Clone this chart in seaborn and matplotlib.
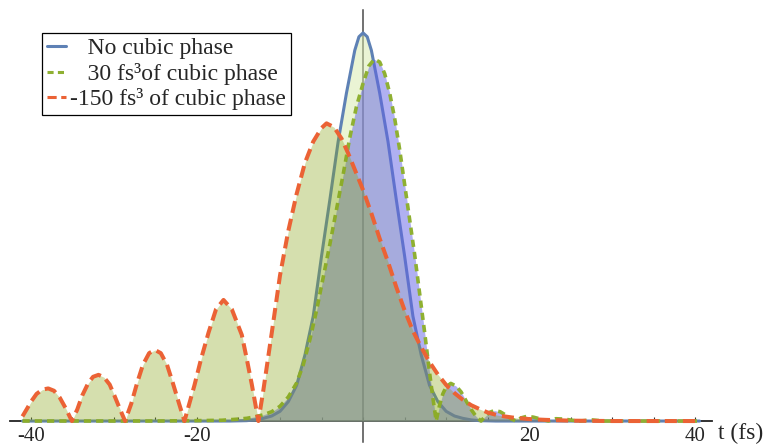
import seaborn as sns
import matplotlib.pyplot as plt
from matplotlib.lines import Line2D

# values (t in fs, normalised intensity)
blue_t = [-41, -16, -14, -13, -12, -11, -10, -9, -8, -7, -6, -5, -4, -3, -2, -1, -0.5, 0,
          0.5, 1, 2, 3, 4, 5, 6, 7, 8, 9, 10, 11, 12, 13, 14, 16, 40.5]
blue_v = [0, 0, 0.001, 0.003, 0.007, 0.013, 0.025, 0.05, 0.092, 0.17, 0.27, 0.425, 0.57, 0.72, 0.845, 0.955, 0.99, 1.0,
          0.99, 0.955, 0.845, 0.72, 0.57, 0.425, 0.27, 0.17, 0.092, 0.05, 0.025, 0.013, 0.007, 0.003, 0.001, 0, 0]

green_t = [-41, -25, -20, -17, -15, -14, -13, -12, -11, -10, -9, -8, -7.2, -6.4, -5.6, -4.8, -4.0, -3.2,
           -2.4, -1.6, -0.8, 0, 0.7, 1.36, 2.0, 2.6, 3.2, 3.8, 4.4, 5.0, 5.6, 6.2, 6.8, 7.4, 8.0, 8.4, 8.8,
           9.2, 9.6, 10.0, 10.56, 11.2, 11.8, 12.4, 13.0, 13.6, 14.2, 14.7, 15.2, 15.8, 16.5, 17.2, 17.8,
           18.4, 19.0, 19.7, 20.5, 21.4, 22.3, 23.2, 24.2, 25.2, 26.1, 27.5, 29, 40.5]
green_v = [0, 0, 0.001, 0.002, 0.005, 0.007, 0.011, 0.016, 0.024, 0.038, 0.062, 0.098, 0.145, 0.21, 0.285, 0.37, 0.455, 0.545,
           0.635, 0.73, 0.81, 0.87, 0.915, 0.932, 0.925, 0.895, 0.845, 0.78, 0.70, 0.61, 0.52, 0.43, 0.33, 0.23, 0.125, 0.06, 0,
           0.04, 0.07, 0.088, 0.097, 0.09, 0.075, 0.052, 0.03, 0.012, 0, 0.012, 0.022, 0.027, 0.024, 0.015, 0.006,
           0, 0.008, 0.012, 0.01, 0.005, 0, 0.006, 0.005, 0.002, 0, 0.003, 0, 0]

orange_t = [-41.0, -40.5, -39.9, -39.3, -38.6, -37.9, -37.2, -36.5, -35.8, -35.05,
            -34.4, -33.8, -33.1, -32.5, -31.85, -31.2, -30.5, -29.9, -29.25, -28.65,
            -27.9, -27.2, -26.5, -25.75, -25.05, -24.35, -23.6, -22.9, -22.15, -21.5,
            -20.3, -19.5, -18.6, -17.7, -16.8, -15.8, -14.6, -14.0, -13.4, -12.6,
            -12.0, -11.0, -10.0, -9.0, -8.0, -7.0, -6.0, -5.0, -4.4, -3.5, -2.6, -1.8, -1.0,
            0, 1, 2, 3, 4, 5, 6, 7, 8, 9, 10, 11, 12, 13, 14, 15, 16, 17, 18, 20, 22, 25, 30, 40.5]
orange_v = [0.012, 0.03, 0.052, 0.07, 0.081, 0.084, 0.078, 0.06, 0.033, 0,
            0.03, 0.066, 0.097, 0.114, 0.119, 0.113, 0.094, 0.064, 0.03, 0,
            0.045, 0.098, 0.145, 0.175, 0.183, 0.175, 0.145, 0.098, 0.045, 0,
            0.092, 0.16, 0.228, 0.288, 0.312, 0.288, 0.222, 0.16, 0.095, 0,
            0.08, 0.226, 0.375, 0.49, 0.585, 0.665, 0.72, 0.755, 0.767, 0.757, 0.728, 0.69, 0.648,
            0.595, 0.535, 0.47, 0.41, 0.345, 0.285, 0.232, 0.19, 0.152, 0.12, 0.093, 0.072, 0.055, 0.041,
            0.031, 0.022, 0.016, 0.012, 0.009, 0.005, 0.003, 0.001, 0, 0]

labels = ["   No cubic phase", "   30 fs\u00b3of cubic phase", "-150 fs\u00b3 of cubic phase"]
tick_vals = list(range(-40, 41, 5))
tick_text = {-40: "-40", -20: "-20", 20: "20", 40: "40"}

sns.set_style("white")
plt.rcParams['font.family'] = ['Liberation Serif', 'DejaVu Serif']
plt.rcParams['axes.unicode_minus'] = False

fig = plt.figure(figsize=(7.68, 4.45), dpi=100)
ax = fig.add_axes([10 / 768, 3 / 445, 702 / 768, 432 / 445])

styles = [
    dict(line='#5e81b5', ls='-', lw=2.2, fill=(0.84, 0.92, 0.67), alpha=0.5),
    dict(line='#8fb032', ls=(0, (2.0, 1.4)), lw=2.6, fill=(0.39, 0.39, 0.90), alpha=0.5),
    dict(line='#eb6235', ls=(0, (3.0, 1.5)), lw=2.9, fill=(0.53, 0.65, 0.09), alpha=0.35),
]
series = [(blue_t, blue_v), (green_t, green_v), (orange_t, orange_v)]

handles = []
z = 1
for (t, v), st, lab in zip(series, styles, labels):
    ax.fill_between(t, v, 0, color=st['fill'], alpha=st['alpha'], lw=0, zorder=z)
    sns.lineplot(x=t, y=v, ax=ax, color=st['line'], linestyle=st['ls'], linewidth=st['lw'],
                 estimator=None, sort=False, zorder=z + 1)
    handles.append(Line2D([], [], color=st['line'], linestyle=st['ls'], lw=2.2))
    z += 2

ax.set_xlim(-42.5, 42.0)
ax.set_ylim(-0.054, 1.059)

# Mathematica-like axes crossing at the origin
for side in ['top', 'right']:
    ax.spines[side].set_visible(False)
ax.spines['bottom'].set_position(('data', 0))
ax.spines['left'].set_position(('data', 0))
ax.spines['bottom'].set_color('#222222')
ax.spines['left'].set_color('#4a4a4a')
ax.spines['bottom'].set_linewidth(1.3)
ax.spines['left'].set_linewidth(1.1)
ax.spines['bottom'].set_zorder(0.5)
ax.spines['left'].set_zorder(0.5)

ax.set_yticks([])
ax.set_xticks(tick_vals)
ax.set_xticklabels([tick_text.get(v, "") for v in tick_vals])
ax.tick_params(axis='x', direction='in', length=3, width=0.8, color='#333333',
               labelsize=15, pad=4, bottom=True)
ax.set_xlabel('')
ax.set_ylabel('')

fig.text(718 / 768, 1 - 433 / 445, 't (fs)', fontsize=17, ha='left', va='center')

leg = ax.legend(handles, labels, loc='upper left', bbox_to_anchor=(42 / 768, 1 - 33 / 445),
                bbox_transform=fig.transFigure, borderaxespad=0, fontsize=17,
                handlelength=0.8, handletextpad=0.2, labelspacing=0.15, borderpad=0.2,
                frameon=True, fancybox=False, framealpha=1)
leg.get_frame().set_edgecolor('black')
leg.get_frame().set_linewidth(0.9)

fig.savefig('out.png', dpi=100)
